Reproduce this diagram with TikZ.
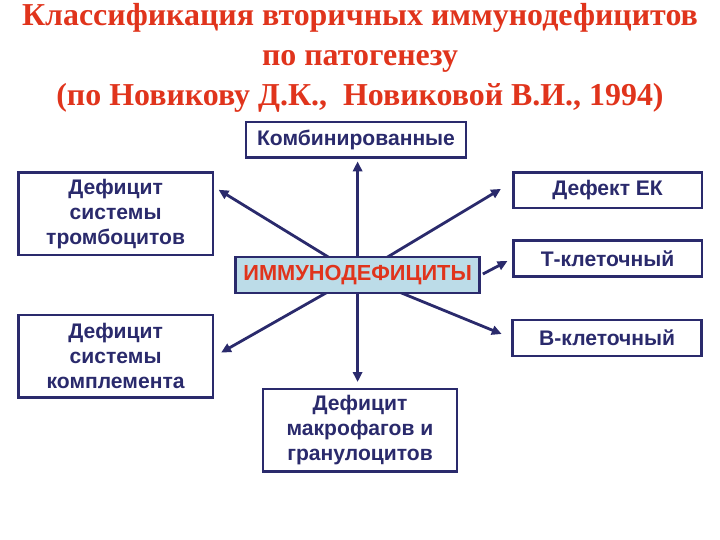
\documentclass[tikz,border=0pt]{standalone}
\usepackage{fontspec}
\setmainfont{Liberation Serif}
\setsansfont{Liberation Sans}
\usepackage{tikz}
\usetikzlibrary{positioning,arrows.meta,backgrounds}
\usepackage{xcolor}
\definecolor{navy}{RGB}{42,42,108}
\definecolor{titlered}{RGB}{224,52,28}
\definecolor{immblue}{RGB}{188,220,232}

\begin{document}
\begin{tikzpicture}[
  font=\sffamily\bfseries\fontsize{15}{17.8}\selectfont,
  >={Triangle[length=7pt,width=6.5pt]},
  cls/.style={draw=navy,line width=2pt,fill=white,text=navy,align=center,
              inner sep=2pt},
  wide/.style={cls,minimum width=4.72cm,minimum height=0.88cm},
  tall/.style={cls,minimum width=4.87cm,minimum height=2.07cm},
  root/.style={cls,fill=immblue,text=titlered,minimum width=6.1cm,
               minimum height=0.9cm,font=\sffamily\bfseries\fontsize{15.5}{18}\selectfont},
  flow/.style={->,navy,line width=2pt},
  title/.style={font=\rmfamily\bfseries\fontsize{22.7}{28.7}\selectfont,
                text=titlered,align=center,anchor=base},
]
\useasboundingbox (0,0) rectangle (18,13.5);
% ---------- title ----------
\node[title] (head) at (9.0,10.85)
   {Классификация вторичных иммунодефицитов\\по патогенезу\\(по Новикову Д.К., \ Новиковой В.И., 1994)};
% ---------- centre ----------
\node[root] (imm) at (8.94,6.625) {ИММУНОДЕФИЦИТЫ};
\node[cls,minimum width=5.5cm,minimum height=0.88cm] (komb) at (8.9,10.01) {Комбинированные};
\node[tall,minimum width=4.85cm] (macro) at (9.0,2.74) {Дефицит\\макрофагов и\\гранулоцитов};
% ---------- left column ----------
\node[tall] (trombo) at (2.89,8.16) {Дефицит\\системы\\тромбоцитов};
\node[tall] (compl) at (2.89,4.59) {Дефицит\\системы\\комплемента};
% ---------- right column ----------
\node[wide] (ek) at (15.19,8.74) {Дефект ЕК};
\node[wide,minimum height=0.9cm] (tcell) at (15.19,7.03) {Т-клеточный};
\node[wide,minimum height=0.9cm] (bcell) at (15.18,5.05) {В-клеточный};
% =================== edges ===================
\begin{scope}[on background layer]
\draw[flow,shorten >=2pt] (imm.center) -- (imm.center |- komb.south);
\draw[flow,shorten >=4pt] (imm.center) -- (imm.center |- macro.north);
\draw[flow,shorten >=3.5pt] (imm.center) -- ([yshift=0.66cm]trombo.east);
\draw[flow,shorten >=5.5pt] (imm.center) -- (compl.east);
\draw[flow,shorten >=9pt] (imm.center) -- ([yshift=0.2cm]ek.west);
\draw[flow,shorten >=7.5pt] (imm.center) -- (bcell.west);
\end{scope}
\draw[flow,shorten <=1.5pt,shorten >=3.5pt] (imm.east) -- (tcell.west);
\end{tikzpicture}
\end{document}
